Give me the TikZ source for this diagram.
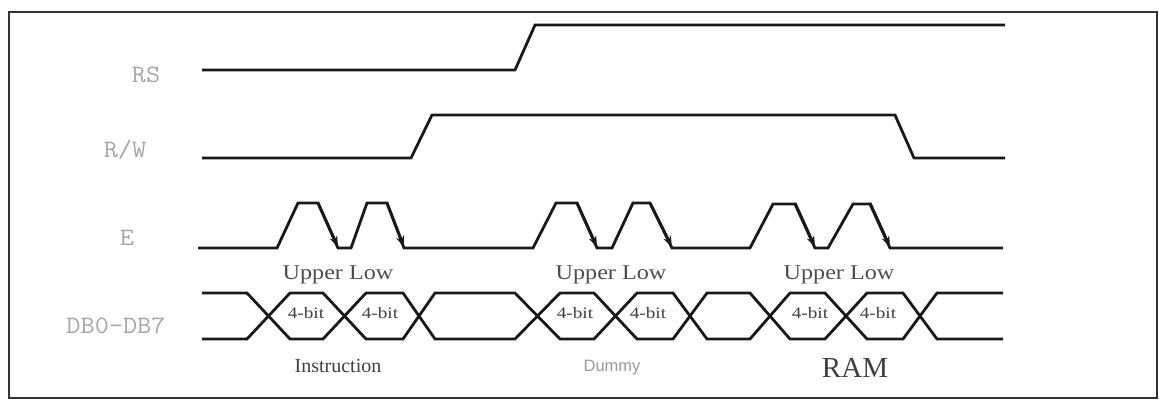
\documentclass[tikz,border=0pt]{standalone}
\usepackage{fontspec}
\setmainfont{Liberation Serif}
\setsansfont{Liberation Sans}
\usetikzlibrary{arrows.meta}

\begin{document}
\begin{tikzpicture}[x=1pt,y=-1pt,
  sig/.style={line width=2.8pt,black!90},
  etip/.style={line width=2.8pt,black!90,-{Stealth[length=11pt,width=8pt]}},
  pin/.style={anchor=base,font=\ttfamily\fontsize{25}{25}\selectfont,text=black!35,xscale=1.1},
  half/.style={anchor=base,font=\fontsize{21}{21}\selectfont,text=black!70,xscale=1.15},
  nib/.style={anchor=base,font=\fontsize{16}{16}\selectfont,text=black!75,xscale=1.2}]
\useasboundingbox (0,0) rectangle (1159,400);
%draw frame:
\draw [line width=2.8pt,black!80] (9,12) rectangle (1157,398);
%draw signal names:
\node[pin] (rs) at (146,82) {RS};
\node[pin] (rw) at (125,157) {R/W};
\node[pin] (en) at (127,245) {E};
\node[pin] (db) at (116,333) {DB0-DB7};
%draw RS and R/W:
\draw [sig] (202,70) -- (515,70) -- (535,25) -- (1005,25);
\draw [sig] (202,158) -- (411,158) -- (432,115) -- (895,115) -- (914,158) -- (1005,158);
%draw E:
\draw [sig] (198,248) -- (277,248) -- (298,203) -- (318,203) -- (338,248) -- (351,248)
  -- (367,203) -- (387,203) -- (404,248) -- (533,248) -- (556,203) -- (577,203)
  -- (597,248) -- (612,248) -- (633,203) -- (650,203) -- (672,248) -- (750,248)
  -- (773,204) -- (795,204) -- (815,248) -- (828,248) -- (853,204) -- (870,204)
  -- (890,248) -- (1003,248);
\foreach \a/\b in {318/338,387/404,577/597,650/672,795/815,870/890}
  \draw [etip] (\a,203) -- (\b,247);
%draw DB0-DB7:
\draw [sig] (202,293) -- (247,293) -- (290,339) -- (323,339) -- (366,293) -- (403,293)
  -- (435,339) -- (515,339) -- (560,293) -- (594,293) -- (637,339) -- (673,339)
  -- (707,293) -- (750,293) -- (790,339) -- (825,339) -- (867,293) -- (903,293)
  -- (937,339) -- (1003,339);
\draw [sig] (202,339) -- (247,339) -- (290,293) -- (323,293) -- (366,339) -- (403,339)
  -- (435,293) -- (515,293) -- (560,339) -- (594,339) -- (637,293) -- (673,293)
  -- (707,339) -- (750,339) -- (790,293) -- (825,293) -- (867,339) -- (903,339)
  -- (937,293) -- (1003,293);
%draw labels:
\node[half] (up1) at (338,279) {Upper Low};
\node[half] (up2) at (611,279) {Upper Low};
\node[half] (up3) at (839,279) {Upper Low};
\node[nib] (b1) at (306,318) {4-bit};
\node[nib] (b2) at (380,318) {4-bit};
\node[nib] (b3) at (575,318) {4-bit};
\node[nib] (b4) at (648,318) {4-bit};
\node[nib] (b5) at (810,318) {4-bit};
\node[nib] (b6) at (878,318) {4-bit};
\node[anchor=base,font=\fontsize{20}{20}\selectfont,text=black!75] (ins) at (338,372) {Instruction};
\node[anchor=base,font=\sffamily\fontsize{16.5}{16.5}\selectfont,text=black!40] (dum) at (612,371) {Dummy};
\node[anchor=base,font=\fontsize{29}{29}\selectfont,text=black!75] (ram) at (855,377) {RAM};
\end{tikzpicture}
\end{document}
